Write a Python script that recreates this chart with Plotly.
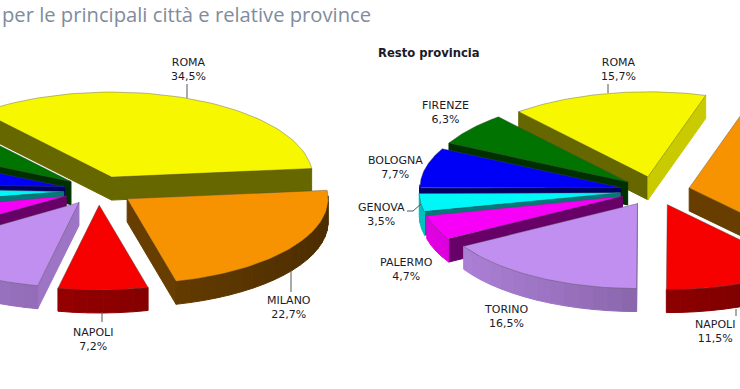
import numpy as np
import plotly.graph_objects as go

# ---- data -------------------------------------------------------------
categories = ["ROMA", "MILANO", "NAPOLI", "TORINO", "PALERMO", "GENOVA", "BOLOGNA", "FIRENZE"]
capoluogo = [34.5, 22.7, 7.2, 12.3, 6.2, 4.0, 6.5, 6.6]      # last five: off the picture, estimated
resto_provincia = [15.7, 33.8, 11.5, 16.5, 4.7, 3.5, 7.7, 6.3]  # Milano: the remainder, off the picture

title_text = "per le principali città e relative province"
right_heading = "Resto provincia"

# ---- styles -----------------------------------------------------------
colors = ["#f7f700", "#f79300", "#f70000", "#c08ff0", "#f700f7", "#00f7f7", "#0000f7", "#007300"]
wall_factor = [0.9, 0.6, 0.8, 1.0, 1.0, 0.85, 0.5, 0.5]
draw_order = [0, 7, 6, 5, 4, 1, 3, 2]

RX, RY, DEPTH = 201, 85, 23
EXPLODE_X, EXPLODE_Y = 35, 14.5
START_DEG = -40
centers = [(98.5, 190.5), (655, 191)]


def rgb(hex_color, k):
    r, g, b = [int(hex_color[i:i + 2], 16) for i in (1, 3, 5)]
    return f"rgb({int(r * k)},{int(g * k)},{int(b * k)})"


fig = go.Figure()


def poly(xs, ys, fill, line=None, width=1.0):
    fig.add_trace(go.Scatter(
        x=list(xs) + [xs[0]], y=list(ys) + [ys[0]], mode="lines", fill="toself",
        fillcolor=fill, line=dict(color=line or fill, width=width),
        hoverinfo="skip", showlegend=False))


def draw_pie(values, center):
    vals = np.array(values, dtype=float)
    edges = START_DEG + np.concatenate([[0], np.cumsum(vals)]) / vals.sum() * 360
    for i in draw_order:
        a0, a1 = edges[i], edges[i + 1]
        mid = np.radians((a0 + a1) / 2)
        ax = center[0] + EXPLODE_X * np.sin(mid)
        ay = center[1] - EXPLODE_Y * np.cos(mid)
        px = lambda d: ax + RX * np.sin(np.radians(d))
        py = lambda d: ay - RY * np.cos(np.radians(d))
        # radial walls: only those facing the viewer
        for edge, normal in ((a0, a0 - 90), (a1, a1 + 90)):
            if np.cos(np.radians(normal)) >= 0:
                continue
            k = 0.82 if np.sin(np.radians(normal)) > 0.7 else 0.42
            if colors[i] == "#00f7f7":
                k = 0.5
            ex, ey = px(edge), py(edge)
            poly([ax, ex, ex, ax], [ay, ey, ey + DEPTH, ay + DEPTH], rgb(colors[i], k))
        # outer wall, as short shaded strips
        lo, hi = a0, a1
        while lo > 90:
            lo -= 360
            hi -= 360
        strips = [(lo, hi), (lo + 360, hi + 360), (lo - 360, hi - 360)]
        for s0, s1 in strips:
            s0, s1 = max(s0, 88), min(s1, 272)
            if s1 <= s0:
                continue
            steps = max(2, int((s1 - s0) / 4))
            grid = np.linspace(s0, s1, steps + 1)
            for g0, g1 in zip(grid[:-1], grid[1:]):
                gm = (g0 + g1) / 2
                k = (0.72 - 0.2 * np.sin(np.radians(gm))) * wall_factor[i]
                gs = np.linspace(g0, g1, 4)
                xs = [px(d) for d in gs]
                ys = [py(d) for d in gs]
                poly(xs + xs[::-1], ys + [y + DEPTH for y in ys[::-1]], rgb(colors[i], k))
        # top face
        arc = np.linspace(a0, a1, 60)
        poly([ax] + [px(d) for d in arc], [ay] + [py(d) for d in arc],
             colors[i], "rgba(70,70,70,0.55)", 0.7)


draw_pie(capoluogo, centers[0])
draw_pie(resto_provincia, centers[1])

# leader lines
leaders = [((187, 187), (84, 98)), ((291, 291), (270, 292)), ((102, 102), (312, 322)),
           ((608, 608), (84, 93)), ((407, 413, 421), (211, 211, 204)), ((736, 736), (309, 316))]
for lx, ly in leaders:
    fig.add_trace(go.Scatter(x=lx, y=ly, mode="lines", line=dict(color="#555555", width=1),
                             hoverinfo="skip", showlegend=False))

# labels
def fmt(v):
    return f"{v:.1f}".replace(".", ",") + "%"


label_pos_left = {"ROMA": (188, 69.5), "MILANO": (289, 307), "NAPOLI": (93, 339)}
label_pos_right = {"ROMA": (618, 69.5), "FIRENZE": (445, 112.5), "BOLOGNA": (395, 167.5),
                   "GENOVA": (381.5, 214), "PALERMO": (406, 269), "TORINO": (506, 316),
                   "NAPOLI": (715, 331)}
annotations = []
for pos, vals in ((label_pos_left, capoluogo), (label_pos_right, resto_provincia)):
    for name, (x, y) in pos.items():
        annotations.append(dict(
            x=x, y=y, xref="x", yref="y", showarrow=False, align="center",
            text=f"{name}<br>{fmt(vals[categories.index(name)])}",
            font=dict(family="DejaVu Sans", size=11, color="#1a1a2a")))
annotations.append(dict(x=376, y=53, xref="x", yref="y", showarrow=False, xanchor="left",
                        text=f"<b>{right_heading}</b>",
                        font=dict(family="DejaVu Sans", size=11.6, color="#1a1a2a")))
annotations.append(dict(x=0, y=14, xref="x", yref="y", showarrow=False, xanchor="left",
                        text=title_text,
                        font=dict(family="Open Sans", size=20.2, color="#7f8c9c")))

fig.update_layout(
    width=740, height=389, margin=dict(l=0, r=0, t=0, b=0),
    paper_bgcolor="white", plot_bgcolor="white", showlegend=False,
    xaxis=dict(range=[0, 740], visible=False, fixedrange=True),
    yaxis=dict(range=[389, 0], visible=False, fixedrange=True),
    annotations=annotations)
fig.write_html("out.html", config=dict(displayModeBar=False),
               post_script="document.body.style.margin='0';document.documentElement.style.overflow='hidden';")
